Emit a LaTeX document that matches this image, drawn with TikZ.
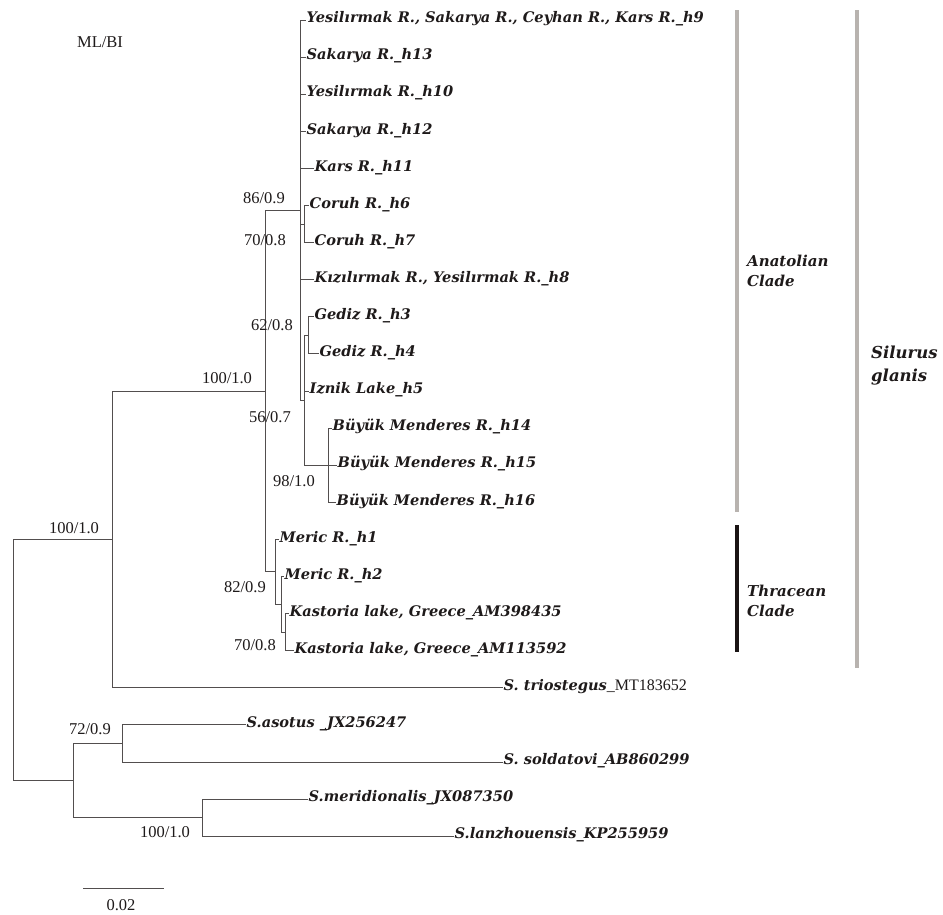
\documentclass[tikz,border=0pt]{standalone}
\usepackage{fontspec}
\setmainfont{Liberation Serif}
\newfontfamily\labfont{DejaVu Serif}
\definecolor{treegray}{HTML}{524E4E}
\definecolor{ink}{HTML}{1E1A1A}
\definecolor{bargray}{HTML}{B8B3AF}
\definecolor{barblack}{HTML}{1A1414}
\newcommand{\tipY}[1]{(20+37.1*(#1))}
\tikzset{
  br/.style={draw=treegray, line width=1pt, line cap=rect},
  leaf/.style={anchor=west, inner sep=1.5pt, text=ink, text height=0.75em, text depth=0.2em,
    font=\labfont\bfseries\itshape\fontsize{14.6}{17}\selectfont},
  supp/.style={text=ink, inner sep=0pt, font=\fontsize{16.5}{18}\selectfont},
  cladetxt/.style={anchor=west, align=left, text=ink, inner sep=0pt,
    font=\labfont\bfseries\itshape\fontsize{15}{20}\selectfont},
  bigtxt/.style={anchor=west, align=left, text=ink, inner sep=0pt,
    font=\labfont\bfseries\itshape\fontsize{16.5}{23}\selectfont},
  bar/.style={line width=4pt}
}
\begin{document}
\begin{tikzpicture}[x=1pt, y=-1pt]
\useasboundingbox[fill=white] (0,0) rectangle (943,914);

% ---------- internal nodes ----------
\coordinate (root) at (13,{\tipY{17}});
\coordinate (sgz) at (112,{\tipY{14}});
\coordinate (sg) at (265,{\tipY{10}});
\coordinate (ana) at (300,{\tipY{5.125}});
\coordinate (cor) at (304,{\tipY{5.5}});
\coordinate (sub) at (304,{\tipY{10.25}});
\coordinate (ged) at (308,{\tipY{8.5}});
\coordinate (bm) at (328,{\tipY{12}});
\coordinate (thr) at (275,{\tipY{14.875}});
\coordinate (thrb) at (281,{\tipY{15.75}});
\coordinate (kas) at (285,{\tipY{16.5}});
\coordinate (out) at (73,{\tipY{20.5}});
\coordinate (aso) at (122,{\tipY{19.5}});
\coordinate (mer) at (202,{\tipY{21.5}});

% ---------- leaves ----------
\node[leaf] (h9) at (305,{\tipY{0}}) {Yesilırmak R., Sakarya R., Ceyhan R., Kars R.\_h9};
\node[leaf] (h13) at (305,{\tipY{1}}) {Sakarya R.\_h13};
\node[leaf] (h10) at (305,{\tipY{2}}) {Yesilırmak R.\_h10};
\node[leaf] (h12) at (305,{\tipY{3}}) {Sakarya R.\_h12};
\node[leaf] (h11) at (313,{\tipY{4}}) {Kars R.\_h11};
\node[leaf] (h6) at (308,{\tipY{5}}) {Coruh R.\_h6};
\node[leaf] (h7) at (313,{\tipY{6}}) {Coruh R.\_h7};
\node[leaf] (h8) at (313,{\tipY{7}}) {Kızılırmak R., Yesilırmak R.\_h8};
\node[leaf] (h3) at (313,{\tipY{8}}) {Gediz R.\_h3};
\node[leaf] (h4) at (318,{\tipY{9}}) {Gediz R.\_h4};
\node[leaf] (h5) at (308,{\tipY{10}}) {Iznik Lake\_h5};
\node[leaf] (h14) at (331,{\tipY{11}}) {Büyük Menderes R.\_h14};
\node[leaf] (h15) at (336,{\tipY{12}}) {Büyük Menderes R.\_h15};
\node[leaf] (h16) at (335,{\tipY{13}}) {Büyük Menderes R.\_h16};
\node[leaf] (h1) at (278,{\tipY{14}}) {Meric R.\_h1};
\node[leaf] (h2) at (283,{\tipY{15}}) {Meric R.\_h2};
\node[leaf] (ka) at (288,{\tipY{16}}) {Kastoria lake, Greece\_AM398435};
\node[leaf] (kb) at (293,{\tipY{17}}) {Kastoria lake, Greece\_AM113592};
\node[leaf] (tri) at (502,{\tipY{18}}) {S. triostegus{\normalfont\fontsize{16}{17}\selectfont\_MT183652}};
\node[leaf] (asot) at (245,{\tipY{19}}) {S.asotus \_JX256247};
\node[leaf] (sold) at (502,{\tipY{20}}) {S. soldatovi\_AB860299};
\node[leaf] (meri) at (307,{\tipY{21}}) {S.meridionalis\_JX087350};
\node[leaf] (lanz) at (453,{\tipY{22}}) {S.lanzhouensis\_KP255959};

% ---------- branches ----------
% root
\draw[br] (root |- sgz) -- (root |- out);
\draw[br] (root |- sgz) -- (sgz);
\draw[br] (root |- out) -- (out);
% Silurus glanis + triostegus
\draw[br] (sgz |- sg) -- (sgz |- tri.west);
\draw[br] (sgz |- sg) -- (sg);
\draw[br] (sgz |- tri.west) -- (tri.west);
% S. glanis
\draw[br] (sg |- ana) -- (sg |- thr);
\draw[br] (sg |- ana) -- (ana);
\draw[br] (sg |- thr) -- (thr);
% Anatolian
\draw[br] (ana |- h9.west) -- (ana |- sub);
\foreach \l in {h9,h13,h10,h12,h11,h8} \draw[br] (ana |- \l.west) -- (\l.west);
\draw[br] (ana |- cor) -- (cor);
\draw[br] (ana |- sub) -- (sub);
% Coruh
\draw[br] (cor |- h6.west) -- (cor |- h7.west);
\draw[br] (cor |- h6.west) -- (h6.west);
\draw[br] (cor |- h7.west) -- (h7.west);
% sub-clade
\draw[br] (sub |- ged) -- (sub |- bm);
\draw[br] (sub |- ged) -- (ged);
\draw[br] (sub |- h5.west) -- (h5.west);
\draw[br] (sub |- bm) -- (bm);
% Gediz
\draw[br] (ged |- h3.west) -- (ged |- h4.west);
\draw[br] (ged |- h3.west) -- (h3.west);
\draw[br] (ged |- h4.west) -- (h4.west);
% Buyuk Menderes
\draw[br] (bm |- h14.west) -- (bm |- h16.west);
\foreach \l in {h14,h15,h16} \draw[br] (bm |- \l.west) -- (\l.west);
% Thracean
\draw[br] (thr |- h1.west) -- (thr |- thrb);
\draw[br] (thr |- h1.west) -- (h1.west);
\draw[br] (thr |- thrb) -- (thrb);
\draw[br] (thrb |- h2.west) -- (thrb |- kas);
\draw[br] (thrb |- h2.west) -- (h2.west);
\draw[br] (thrb |- kas) -- (kas);
\draw[br] (kas |- ka.west) -- (kas |- kb.west);
\draw[br] (kas |- ka.west) -- (ka.west);
\draw[br] (kas |- kb.west) -- (kb.west);
% outgroups
\draw[br] (out |- aso) -- (out |- mer);
\draw[br] (out |- aso) -- (aso);
\draw[br] (out |- mer) -- (mer);
\draw[br] (aso |- asot.west) -- (aso |- sold.west);
\draw[br] (aso |- asot.west) -- (asot.west);
\draw[br] (aso |- sold.west) -- (sold.west);
\draw[br] (mer |- meri.west) -- (mer |- lanz.west);
\draw[br] (mer |- meri.west) -- (meri.west);
\draw[br] (mer |- lanz.west) -- (lanz.west);

% ---------- support values ----------
\node[supp] (mlbi) at (100,42) {ML/BI};
\node[supp] (s1) at (74,528) {100/1.0};
\node[supp] (s2) at (227,378) {100/1.0};
\node[supp] (s3) at (264,198) {86/0.9};
\node[supp] (s4) at (265,240) {70/0.8};
\node[supp] (s5) at (272,325) {62/0.8};
\node[supp] (s6) at (270,417) {56/0.7};
\node[supp] (s7) at (294,481) {98/1.0};
\node[supp] (s8) at (245,587) {82/0.9};
\node[supp] (s9) at (255,645) {70/0.8};
\node[supp] (s10) at (90,729) {72/0.9};
\node[supp] (s11) at (165,832) {100/1.0};

% ---------- scale bar ----------
\coordinate (sbl) at (83,888);
\coordinate (sbr) at (163,888);
\draw[br] (sbl) -- (sbr);
\node[supp] (sbt) at (121,905) {0.02};

% ---------- clade bars ----------
\draw[bar, draw=bargray] (737,10) -- (737,512);
\draw[bar, draw=barblack] (737,525) -- (737,652);
\draw[bar, draw=bargray] (857,10) -- (857,668);
\node[cladetxt] (anat) at (747,271) {Anatolian\\Clade};
\node[cladetxt] (thrt) at (747,601) {Thracean\\Clade};
\node[bigtxt] (silg) at (871,366) {Silurus\\glanis};
\end{tikzpicture}
\end{document}
